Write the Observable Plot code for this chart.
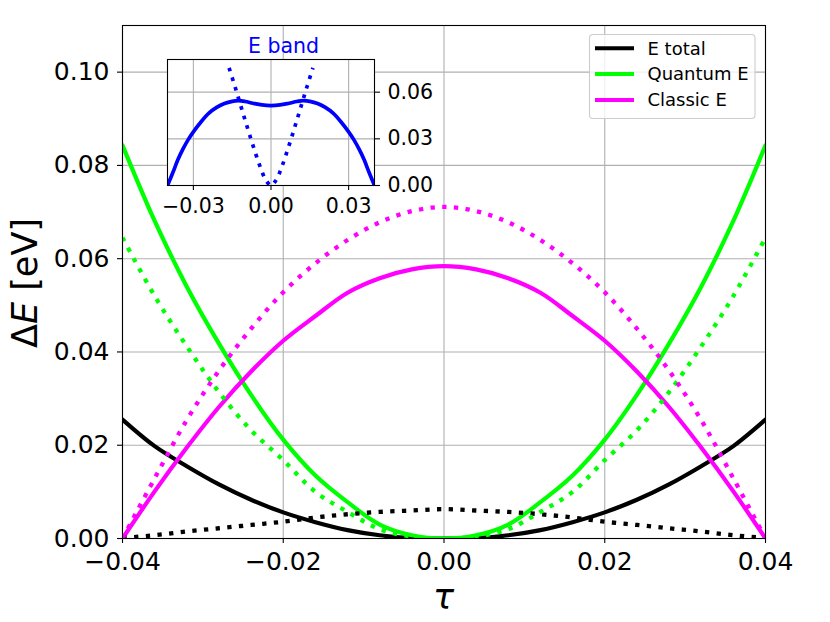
<!DOCTYPE html>
<html><head><meta charset="utf-8">
<script src="https://cdn.jsdelivr.net/npm/d3@7"></script>
<script src="https://cdn.jsdelivr.net/npm/@observablehq/plot@0.6"></script>
<style>
body{margin:0;background:#fff;}
#wrap{position:relative;width:830px;height:622px;font-family:"DejaVu Sans",sans-serif;}
#wrap svg{position:absolute;overflow:visible;}
</style></head><body><div id="wrap"></div>
<script>
// ---- data ----
const tau = [-0.04,-0.036,-0.032,-0.028,-0.024,-0.02,-0.016,-0.012,-0.008,-0.004,0,
             0.004,0.008,0.012,0.016,0.02,0.024,0.028,0.032,0.036,0.04];
const eTotal     = [0.0255,0.0198,0.0155,0.0116,0.0083,0.0056,0.0035,0.0018,0.0007,0.0001,0,
                    0.0001,0.0007,0.0018,0.0035,0.0056,0.0083,0.0116,0.0155,0.0198,0.0255];
const eTotalDot  = [0.0001,0.0007,0.0015,0.0022,0.0029,0.0036,0.0045,0.0052,0.0057,0.0060,0.0063,
                    0.0060,0.0057,0.0052,0.0045,0.0036,0.0029,0.0022,0.0015,0.0007,0.0001];
const quantum    = [0.0843,0.0681,0.0540,0.0418,0.0308,0.0212,0.0135,0.0078,0.0030,0.0007,0,
                    0.0007,0.0030,0.0078,0.0135,0.0212,0.0308,0.0418,0.0540,0.0681,0.0843];
const quantumDot = [0.0645,0.0520,0.0412,0.0314,0.0232,0.0168,0.0100,0.0057,0.0020,0.0004,0,
                    0.0004,0.0020,0.0057,0.0100,0.0168,0.0232,0.0314,0.0412,0.0520,0.0645];
const classic    = [0,0.0101,0.0195,0.0282,0.0358,0.0424,0.0477,0.0527,0.0558,0.0577,0.0584,
                    0.0577,0.0558,0.0527,0.0477,0.0424,0.0358,0.0282,0.0195,0.0101,0];
const classicDot = [0,0.0129,0.0254,0.0360,0.0450,0.0528,0.0590,0.0640,0.0678,0.0702,0.0711,
                    0.0702,0.0678,0.0640,0.0590,0.0528,0.0450,0.0360,0.0254,0.0129,0];

const tauBand = [-0.04,-0.038,-0.036,-0.034,-0.032,-0.03,-0.027,-0.024,-0.021,-0.018,-0.015,-0.0125,-0.01,-0.007,-0.0035,0,
                 0.0035,0.007,0.01,0.0125,0.015,0.018,0.021,0.024,0.027,0.03,0.032,0.034,0.036,0.038,0.04];
const eBand   = [0,0.008,0.0165,0.0235,0.0295,0.0345,0.041,0.0465,0.0502,0.0527,0.0541,0.0545,0.054,0.0529,0.0518,0.0514,
                 0.0518,0.0529,0.054,0.0545,0.0541,0.0527,0.0502,0.0465,0.041,0.0345,0.0295,0.0235,0.0165,0.008,0];
const tauBandDot = [-0.0162,-0.014,-0.012,-0.01,-0.008,-0.006,-0.004,-0.002,0,0.002,0.004,0.006,0.008,0.01,0.012,0.014,0.0162];
const eBandDot   = [0.0756,0.0640,0.0530,0.0420,0.0312,0.0208,0.0112,0.0035,0,0.0035,0.0112,0.0208,0.0312,0.0420,0.0530,0.0640,0.0756];

const xTicks = [-0.04,-0.02,0,0.02,0.04];
const yTicks = [0,0.02,0.04,0.06,0.08,0.10];
const insetXTicks = [-0.03,0,0.03];
const insetYTicks = [0,0.03,0.06];
const legendLabels = ["E total","Quantum E","Classic E"];
const colors = ["#000000","#00ff00","#ff00ff"];
const bandColor = "#0000ff";

// ---- helpers ----
const rows = (xs, ys) => xs.map((t,i)=>({t, e: ys[i]}));
const fmt = d3.format(".2f");
const FONT = '"DejaVu Sans", sans-serif';
const DOT = "4.3,7.4";

const wrap = document.getElementById("wrap");

const solid = (ys, c) => Plot.line(rows(tau, ys), {x:"t", y:"e", stroke:c, strokeWidth:4.2, curve:"catmull-rom", clip:true});
const dotted = (ys, c) => Plot.line(rows(tau, ys), {x:"t", y:"e", stroke:c, strokeWidth:4.3, strokeDasharray:DOT, strokeLinecap:"butt", curve:"catmull-rom", clip:true});

const main = Plot.plot({
  width:830, height:622,
  marginLeft:122, marginRight:65, marginTop:25, marginBottom:84,
  style:{fontFamily:FONT, background:"transparent", color:"black"},
  x:{domain:[-0.04,0.04]},
  y:{domain:[0,0.11]},
  marks:[
    Plot.gridX(xTicks,{stroke:"#b0b0b0", strokeOpacity:1, strokeWidth:1.1}),
    Plot.gridY(yTicks,{stroke:"#b0b0b0", strokeOpacity:1, strokeWidth:1.1}),
    solid(eTotal, colors[0]),
    solid(quantum, colors[1]),
    solid(classic, colors[2]),
    dotted(eTotalDot, colors[0]),
    dotted(quantumDot, colors[1]),
    dotted(classicDot, colors[2]),
    Plot.frame({stroke:"black", strokeWidth:1.1}),
    Plot.axisX(xTicks,{tickFormat:fmt, tickSize:5, tickPadding:9, fontSize:25, label:null, strokeWidth:1.1}),
    Plot.axisY(yTicks,{tickFormat:fmt, tickSize:5, tickPadding:8, fontSize:25, label:null, strokeWidth:1.1})
  ]
});
main.style.left = "0px"; main.style.top = "0px";
wrap.appendChild(main);

const ms = d3.select(main);
// y label
const yl = ms.append("text")
  .attr("transform","translate(36.5,283) rotate(-90)")
  .attr("text-anchor","middle")
  .attr("font-size",35).attr("font-family",FONT).attr("fill","black");
yl.append("tspan").text("Δ");
yl.append("tspan").attr("font-style","italic").text("E");
yl.append("tspan").text(" [eV]");
// x label
ms.append("text").attr("x",443.5).attr("y",609)
  .attr("text-anchor","middle").attr("font-size",35).attr("font-style","italic")
  .attr("font-family",FONT).attr("fill","black").text("τ");

// legend
const lg = ms.append("g").attr("text-anchor","start");
lg.append("rect").attr("x",589.5).attr("y",34.5).attr("width",165.5).attr("height",84)
  .attr("rx",3.5).attr("fill","white").attr("fill-opacity",0.8).attr("stroke","#cccccc").attr("stroke-width",1.1);
const rowY = [48.3,74,100];
legendLabels.forEach((lab,i)=>{
  lg.append("line").attr("x1",595).attr("x2",634).attr("y1",rowY[i]).attr("y2",rowY[i])
    .attr("stroke",colors[i]).attr("stroke-width",4);
  lg.append("text").attr("x",647.5).attr("y",rowY[i]).attr("dy","0.35em")
    .attr("text-anchor","start")
    .attr("font-size",18).attr("font-family",FONT).attr("fill","black").text(lab);
});

// ---- inset ----
const inset = Plot.plot({
  width:297, height:206,
  marginLeft:20, marginRight:70, marginTop:40, marginBottom:40,
  style:{fontFamily:FONT, background:"transparent", color:"black"},
  x:{domain:[-0.04,0.04]},
  y:{domain:[0,0.081]},
  marks:[
    Plot.frame({fill:"white", stroke:null}),
    Plot.gridX(insetXTicks,{stroke:"#b0b0b0", strokeOpacity:1, strokeWidth:1.1}),
    Plot.gridY(insetYTicks,{stroke:"#b0b0b0", strokeOpacity:1, strokeWidth:1.1}),
    Plot.line(rows(tauBand, eBand),{x:"t", y:"e", stroke:bandColor, strokeWidth:3.7, curve:"catmull-rom", clip:true}),
    Plot.line(rows(tauBandDot, eBandDot),{x:"t", y:"e", stroke:bandColor, strokeWidth:3.7, strokeDasharray:"3.7,6.3", strokeLinecap:"butt", curve:"catmull-rom", clip:true}),
    Plot.frame({stroke:"black", strokeWidth:1.1}),
    Plot.axisX(insetXTicks,{tickFormat:fmt, tickSize:5, tickPadding:8, fontSize:20.5, label:null, strokeWidth:1.1}),
    Plot.axisY(insetYTicks,{anchor:"right", tickFormat:fmt, tickSize:5, tickPadding:8, fontSize:20.5, label:null, strokeWidth:1.1})
  ]
});
inset.style.left = "147px"; inset.style.top = "19px";
wrap.appendChild(inset);
d3.select(inset).append("text").attr("x",136.5).attr("y",34)
  .attr("text-anchor","middle").attr("font-size",20.5).attr("font-family",FONT)
  .attr("fill",bandColor).text("E band");
</script></body></html>
